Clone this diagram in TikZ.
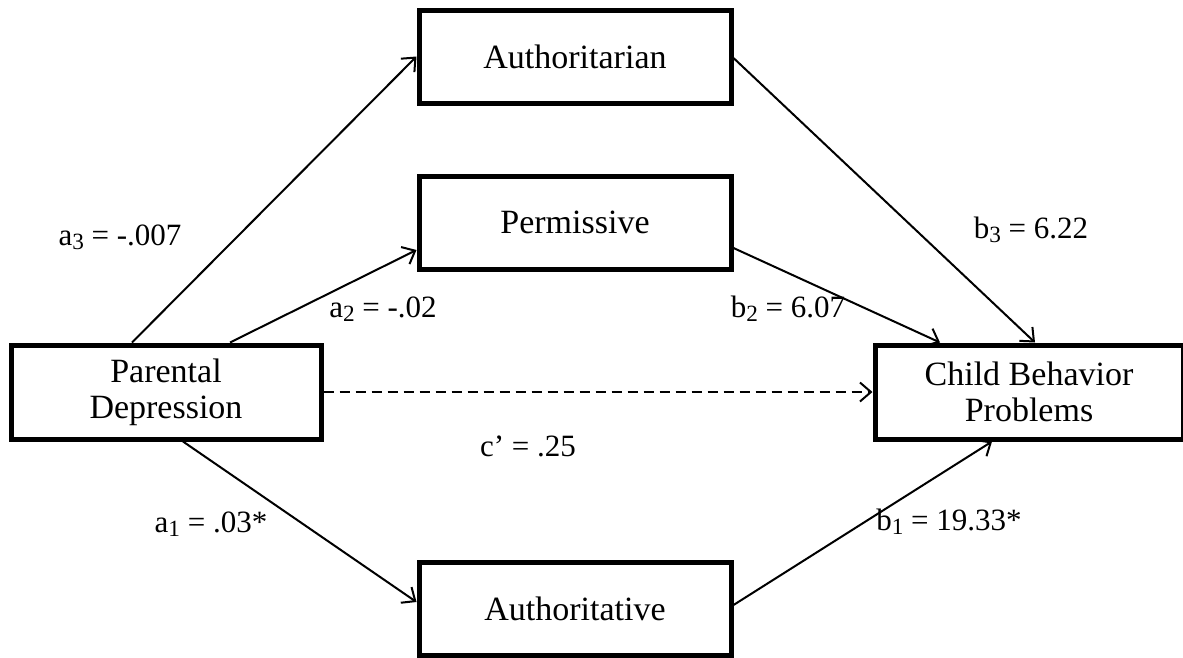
\documentclass[tikz,border=0pt]{standalone}
\usepackage{fontspec}
\usepackage{graphicx}
\setmainfont{Liberation Serif}
\usetikzlibrary{arrows.meta}
\newcommand\sbs[1]{\raisebox{-0.12em}{\scalebox{0.75}{#1}}}
\tikzset{
  boxnode/.style={draw, line width=5pt, fill=white, align=center,
    font=\fontsize{34}{36}\selectfont, inner sep=0pt},
  lab/.style={font=\fontsize{31}{34}\selectfont, inner sep=0pt},
  conn/.style={line width=2pt, -{Straight Barb[length=11pt,width=19pt,line width=2pt]}},
}
\begin{document}
\begin{tikzpicture}[x=1pt,y=-1pt]
\useasboundingbox[fill=white] (0,0) rectangle (1183,657);
\node[boxnode, minimum width=312pt, minimum height=93pt] (ar) at (575,56.5) {Authoritarian};
\node[boxnode, minimum width=312pt, minimum height=93pt] (pe) at (575,222.5) {Permissive};
\node[boxnode, minimum width=310pt, minimum height=94pt] (pd) at (166,392) {Parental\\Depression};
\node[boxnode, minimum width=308pt, minimum height=94pt] (cb) at (1029,392) {Child Behavior\\Problems};
\node[boxnode, minimum width=312pt, minimum height=93pt] (at) at (575,608.5) {Authoritative};

\draw[conn] ([xshift=-34pt]pd.north) -- (ar.west);
\draw[conn] ([xshift=64pt]pd.north) -- ([yshift=-27.5pt]pe.west);
\draw[conn] ([xshift=17pt]pd.south) -- ([yshift=6.5pt]at.west);
\draw[conn] ([yshift=-1.5pt]ar.east) -- ([xshift=6pt]cb.north);
\draw[conn] ([yshift=-25.5pt]pe.east) -- ([xshift=-89pt]cb.north);
\draw[conn] ([yshift=3.5pt]at.east) -- ([xshift=-37pt]cb.south);
\draw[conn, dash pattern=on 10pt off 6pt] (pd.east) -- (cb.west);

\node[lab] (la3) at (120,237) {a\sbs{3} = -.007};
\node[lab] (la2) at (383,309) {a\sbs{2} = -.02};
\node[lab] (lb3) at (1031,230) {b\sbs{3} = 6.22};
\node[lab] (lb2) at (788,309) {b\sbs{2} = 6.07};
\node[lab] (lc) at (528,446) {c’ = .25};
\node[lab] (la1) at (211,524) {a\sbs{1} = .03*};
\node[lab] (lb1) at (949,522) {b\sbs{1} = 19.33*};
\end{tikzpicture}
\end{document}
